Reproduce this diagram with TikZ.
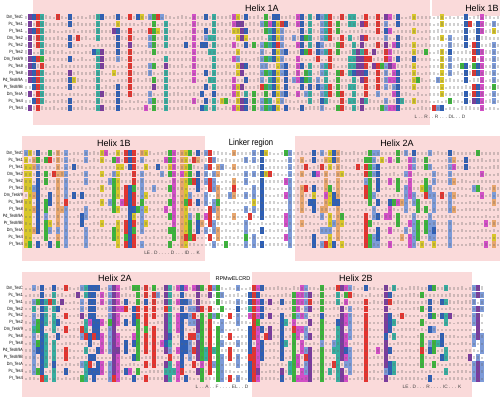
\documentclass[tikz,border=0pt]{standalone}
\usepackage{fontspec}
\setmainfont{Liberation Sans}
\definecolor{pk}{HTML}{FADADA}
\definecolor{c1}{HTML}{E3342F}
\definecolor{c2}{HTML}{2E5FB5}
\definecolor{c3}{HTML}{7D9BD8}
\definecolor{c4}{HTML}{7A3C9E}
\definecolor{c5}{HTML}{D24FC6}
\definecolor{c6}{HTML}{3CB43C}
\definecolor{c7}{HTML}{D8C62B}
\definecolor{c8}{HTML}{38ADA0}
\definecolor{c9}{HTML}{E7A66E}
\tikzset{
  lab/.style={anchor=east,inner sep=0pt,font=\fontsize{4.6}{5}\selectfont},
  helix/.style={inner sep=0pt,font=\fontsize{9}{10}\selectfont},
  cons/.style={inner sep=0pt,font=\fontsize{4.8}{5}\selectfont,text=black!75}
}
\newcommand\alnpanel[6]{%
 \foreach \cc in {1,...,#4}{%
   \pgfmathsetmacro\rc{rnd}%
   \pgfmathtruncatemacro\kc{#5[random(0,#6-1)]}%
   \pgfmathsetmacro\pc{\rc<0.5 ? 0.4+0.58*rnd : 0.05}%
   \foreach \rr in {0,...,13}{%
     \pgfmathsetmacro\q{rnd}%
     \pgfmathtruncatemacro\ka{#5[random(0,#6-1)]}%
     \pgfmathtruncatemacro\kk{rnd<0.12 ? \ka : \kc}%
     \ifdim\q pt<\pc pt
       \fill[c\kk] ({#1+(\cc-1)*4},{#2+\rr*#3-3.3}) rectangle ++(4,6.6);
     \fi
     \pgfmathsetmacro\mh{1.8+1.6*rnd}%
     \fill[black!60,opacity=.3] ({#1+(\cc-1)*4+1.2},{#2+\rr*#3+1.6-\mh}) rectangle ++(1.6,\mh);
   }%
 }%
}
\def\labs{Dm\_TesC,Pc\_Tes1,Pr\_Tes1,Dm\_Tes2,Pc\_Tes2,Pr\_Tes2,Dm\_Tes8/9,Pc\_Tes8,Pr\_Tes8,Pd\_Tes8/9A,Pr\_Tes8/9B,Dm\_TesA,Pc\_Tes4,Pr\_Tes4}
\begin{document}
\begin{tikzpicture}[x=1pt,y=-1pt]
\useasboundingbox (0,0) rectangle (500,397);
\fill[white] (0,0) rectangle (500,397);
% backgrounds
\fill[pk] (33,0) rectangle (430,125);
\fill[pk] (432,0) rectangle (500,16);
\fill[pk] (22,136) rectangle (205,261);
\fill[pk] (295,136) rectangle (500,261);
\fill[pk] (22,272) rectangle (210,397);
\fill[pk] (252,272) rectangle (472,397);
% cells
\pgfmathsetseed{4217}
\alnpanel{24}{17}{7.0}{119}{{1,1,2,2,4,5,6,7,8,3}}{10}
\alnpanel{24}{153}{7.05}{119}{{3,3,2,6,1,5,9,7,3,6}}{10}
\alnpanel{24}{288}{6.95}{115}{{1,1,2,3,3,4,5,6,8,2}}{10}
% labels
\foreach \t [count=\i from 0] in \labs {
  \node[lab] (la\i) at (23,{17+7*\i}) {\scalebox{0.8}[1]{\t}};
  \node[lab] (lb\i) at (23,{153+7.05*\i}) {\scalebox{0.8}[1]{\t}};
  \node[lab] (lc\i) at (23,{288+6.95*\i}) {\scalebox{0.8}[1]{\t}};
}
% headers
\node[helix] (h1a) at (262,8) {Helix 1A};
\node[helix] (h1b) at (482,8) {Helix 1B};
\node[helix] (h1b2) at (114,143) {Helix 1B};
\node[helix] (link) at (251,143) {\scalebox{0.85}[1]{Linker region}};
\node[helix] (h2a) at (397,143) {Helix 2A};
\node[helix] (h2a2) at (115,278) {Helix 2A};
\node[inner sep=0pt,font=\fontsize{5.5}{6}\selectfont] (rpm) at (233,279) {RPMwELCRD};
\node[helix] (h2b) at (356,278) {Helix 2B};
% consensus
\node[cons] (k1) at (440,117) {L . . R . . R . . . DL . . D};
\node[cons] (k2) at (172,253) {LE . D . . . . D . . . ID . . K};
\node[cons] (k3) at (222,387) {L . . A . . F . . . . EL . . D};
\node[cons] (k4) at (432,387) {LE . D . . . R . . . . IC . . . K};
\end{tikzpicture}
\end{document}
